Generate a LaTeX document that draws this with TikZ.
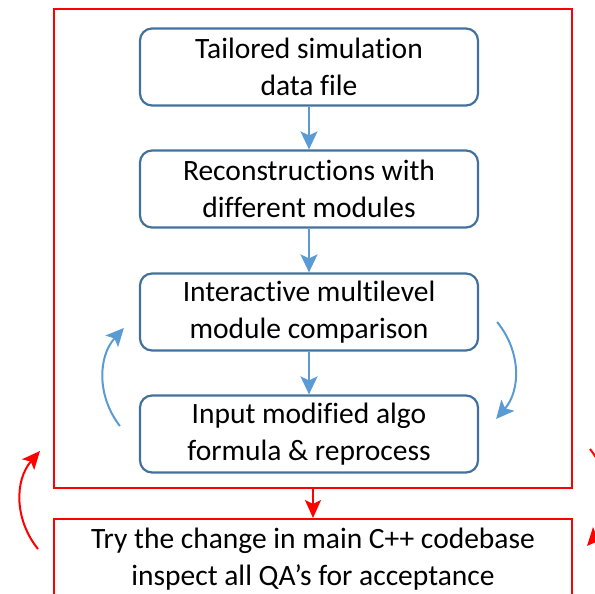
\documentclass[tikz,border=0pt]{standalone}
\usepackage{fontspec}
\setmainfont{Carlito}[Ligatures=NoCommon]
\definecolor{BoxBlue}{RGB}{65, 113, 156}
\definecolor{ArrowBlue}{RGB}{91, 155, 213}
\definecolor{FrameRed}{RGB}{255, 0, 0}
\usetikzlibrary{arrows.meta, positioning, calc}

\begin{document}
\begin{tikzpicture}[x=1pt, y=-1pt,
        box/.style={draw=BoxBlue, line width=2.2pt, rectangle, rounded corners=12pt, minimum width=338pt, minimum height=77pt, align=center, font=\fontsize{29.5}{36.5}\selectfont},
        frame/.style={draw=FrameRed, line width=2pt, rectangle, inner sep=0pt},
        arrow/.style={-{Stealth[length=18pt, width=17pt, inset=4pt]}, line width=2pt, ArrowBlue},
        redarrow/.style={-{Stealth[length=18pt, width=16pt, inset=4pt]}, line width=2pt, FrameRed}]

        \useasboundingbox (0,0) rectangle (595,594);
        \clip (0,0) rectangle (595,594);

        % Outer frame
        \node[frame, minimum width=518pt, minimum height=479pt] (outer) at (313,248.5) {};

        % Step 1
        \node[box] (s1) at (309,67) {Tailored simulation\\data file};

        % Step 2
        \node[box] (s2) at (309,189) {Reconstructions with\\different modules};

        % Step 3
        \node[box] (s3) at (309,312) {Interactive multilevel\\module comparison};

        % Step 4
        \node[box] (s4) at (309,434) {Input modified algo\\formula \& reprocess};

        % Final check
        \node[frame, minimum width=518pt, minimum height=80pt, align=center, font=\fontsize{29.5}{36.5}\selectfont, anchor=north] (qa) at (313,518) {Try the change in main C++ codebase\\inspect all QA’s for acceptance};

        % Arrows
        \draw[arrow] (s1) -- (s2);
        \draw[arrow] (s2) -- (s3);
        \draw[arrow] (s3) -- (s4);
        \draw[redarrow] (outer) -- (qa);

        % Loop arrows
        \coordinate (l1) at ($(s4.west)+(-19,-8)$);
        \coordinate (l2) at ($(s3.west)+(-15,16)$);
        \coordinate (r1) at ($(s3.east)+(18,10)$);
        \coordinate (r2) at ($(s4.east)+(17,-15)$);
        \draw[arrow] (l1) to[bend left=40] (l2);
        \draw[arrow] (r1) to[bend left=40] (r2);

        \coordinate (L1) at (38,549);
        \coordinate (L2) at (40,451);
        \coordinate (R1) at (590,449);
        \coordinate (R2) at (587,546);
        \draw[redarrow] (L1) to[bend left=40] (L2);
        \draw[redarrow] (R1) to[bend left=40] (R2);

    \end{tikzpicture}
\end{document}
